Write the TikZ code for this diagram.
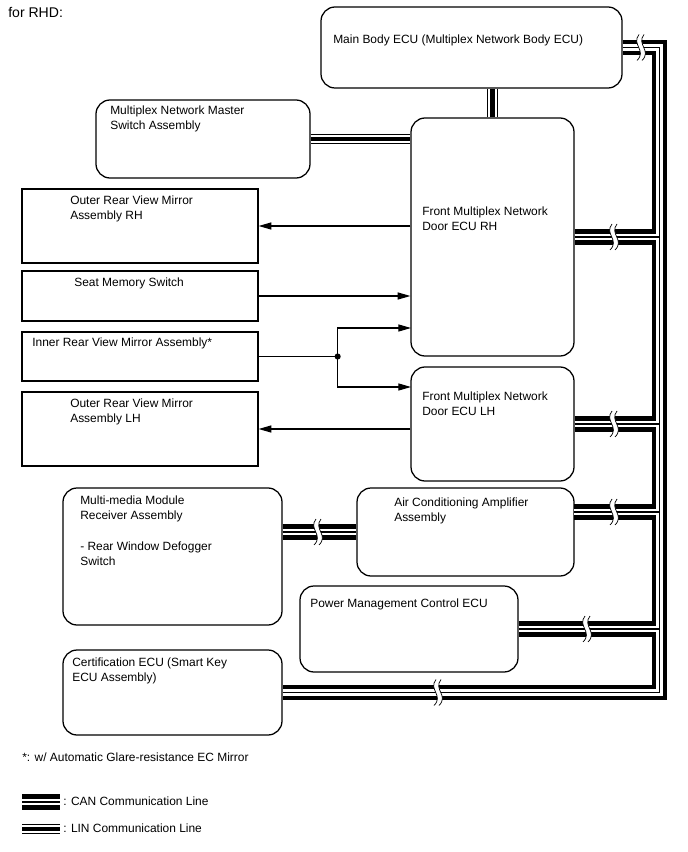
\documentclass[tikz,border=0pt]{standalone}
\usepackage{fontspec}
\setmainfont{Liberation Sans}
\usetikzlibrary{arrows.meta, fit, calc}
\tikzset{
    ecubox/.style={rectangle, rounded corners=10pt, draw=black, line width=0.9pt, inner sep=0pt},
    partbox/.style={rectangle, draw=black, line width=0.9pt, inner sep=0pt},
    txt/.style={anchor=north west, align=left, inner sep=0pt, font=\fontsize{8.5}{10.3}\selectfont},
    sig/.style={-{Triangle[length=9pt, width=5pt]}, line width=0.8pt},
    brk/.pic={
        \fill[white] (-1,-13) .. controls (-9,-3) and (7,3) .. (-3,13)
            -- (2,13) .. controls (12,3) and (-4,-3) .. (4,-13) -- cycle;
        \draw[line width=0.5pt] (-1,-13) .. controls (-9,-3) and (7,3) .. (-3,13);
        \draw[line width=0.5pt] (4,-13) .. controls (-4,-3) and (12,3) .. (2,13);
    },
}
\begin{document}
\begin{tikzpicture}[x=0.025cm, y=-0.025cm]
    \useasboundingbox (0,0) rectangle (688,852);

    % units
    \node[ecubox, fit={(321,7) (622,88)}] (mainbody) {};
    \node[ecubox, fit={(96,100) (310,178)}] (master) {};
    \node[ecubox, fit={(411,118) (574,356)}] (frontrh) {};
    \node[ecubox, fit={(411,367) (574,481)}] (frontlh) {};
    \node[partbox, fit={(22,189) (258,263)}] (outerrh) {};
    \node[partbox, fit={(22,271) (258,321)}] (seatsw) {};
    \node[partbox, fit={(22,332) (258,381)}] (innermir) {};
    \node[partbox, fit={(22,392) (258,466)}] (outerlh) {};
    \node[ecubox, fit={(63,488) (282,625)}] (mmrecv) {};
    \node[ecubox, fit={(357,488) (574,576)}] (aircon) {};
    \node[ecubox, fit={(300,586) (518,672)}] (pwrmgmt) {};
    \node[ecubox, fit={(63,650) (282,735)}] (certecu) {};

    % labels
    \node[txt, font=\fontsize{10}{12}\selectfont] (rhd) at (8,7) {for RHD:};
    \node[txt] (mainbodytxt) at (333,35) {Main Body ECU (Multiplex Network Body ECU)};
    \node[txt] (mastertxt) at (110,106) {Multiplex Network Master\\Switch Assembly};
    \node[txt] (frontrhtxt) at (422,207) {Front Multiplex Network\\Door ECU RH};
    \node[txt] (frontlhtxt) at (422,392) {Front Multiplex Network\\Door ECU LH};
    \node[txt] (outerrhtxt) at (70,196) {Outer Rear View Mirror\\Assembly RH};
    \node[txt] (seatswtxt) at (74,278) {Seat Memory Switch};
    \node[txt] (innermirtxt) at (32,338) {Inner Rear View Mirror Assembly*};
    \node[txt] (outerlhtxt) at (70,399) {Outer Rear View Mirror\\Assembly LH};
    \node[txt] (mmrecvtxt) at (80,496) {Multi-media Module\\Receiver Assembly\\[12pt]- Rear Window Defogger\\Switch};
    \node[txt] (aircontxt) at (394,498) {Air Conditioning Amplifier\\Assembly};
    \node[txt] (pwrmgmttxt) at (310,599) {Power Management Control ECU};
    \node[txt] (certecutxt) at (72,658) {Certification ECU (Smart Key\\ECU Assembly)};
    \node[txt] (note) at (22,753) {*: w/ Automatic Glare-resistance EC Mirror};

    % signal lines
    \draw[sig] (outerrh.east -| frontrh.west) -- (outerrh.east);
    \draw[sig] (seatsw.east) -- (seatsw.east -| frontrh.west);
    \path (innermir.east) ++(79,0) coordinate (jn);
    \coordinate (rhin) at (411,328);
    \coordinate (lhin) at (411,387);
    \draw[line width=0.8pt] (innermir.east) -- (jn);
    \draw[sig] (jn) |- (rhin);
    \draw[sig] (jn) |- (lhin);
    \fill (jn) circle[radius=2.2pt];
    \draw[sig] (outerlh.east -| frontlh.west) -- (outerlh.east);

    % CAN bus
    \path (certecu.east) ++(377,0) coordinate (busbot);
    \coordinate (actap) at (574,512);
    \foreach \lw/\lc in {11pt/black, 4.6pt/white, 0.8pt/black} {
        \draw[line width=\lw, draw=\lc] (mainbody.east) -| (busbot) -- (certecu.east);
        \draw[line width=\lw, draw=\lc] (frontrh.east) -- (frontrh.east -| busbot);
        \draw[line width=\lw, draw=\lc] (frontlh.east) -- (frontlh.east -| busbot);
        \draw[line width=\lw, draw=\lc] (actap) -- (actap -| busbot);
        \draw[line width=\lw, draw=\lc] (pwrmgmt.east) -- (pwrmgmt.east -| busbot);
        \draw[line width=\lw, draw=\lc] (aircon.west -| mmrecv.east) -- (aircon.west);
    }
    \pic at (640,47.5) {brk};
    \pic at (613,237) {brk};
    \pic at (613,424) {brk};
    \pic at (613,512) {brk};
    \pic at (586,629) {brk};
    \pic at (437,692.5) {brk};
    \pic at (317,532) {brk};

    % LIN lines
    \foreach \lw/\lc in {7.8pt/black, 6.3pt/white, 3.1pt/black} {
        \draw[line width=\lw, draw=\lc] (master.east) -- (master.east -| frontrh.west);
        \draw[line width=\lw, draw=\lc] (frontrh.north) -- (frontrh.north |- mainbody.south);
    }

    % legend
    \coordinate (canl) at (22,802);
    \coordinate (canr) at (60,802);
    \coordinate (linl) at (22,829);
    \coordinate (linr) at (60,829);
    \foreach \lw/\lc in {11pt/black, 4.6pt/white, 0.8pt/black} {
        \draw[line width=\lw, draw=\lc] (canl) -- (canr);
    }
    \foreach \lw/\lc in {7.8pt/black, 6.3pt/white, 3.1pt/black} {
        \draw[line width=\lw, draw=\lc] (linl) -- (linr);
    }
    \node[txt] (cantxt) at (63,797) {: CAN Communication Line};
    \node[txt] (lintxt) at (63,824) {: LIN Communication Line};
\end{tikzpicture}
\end{document}
